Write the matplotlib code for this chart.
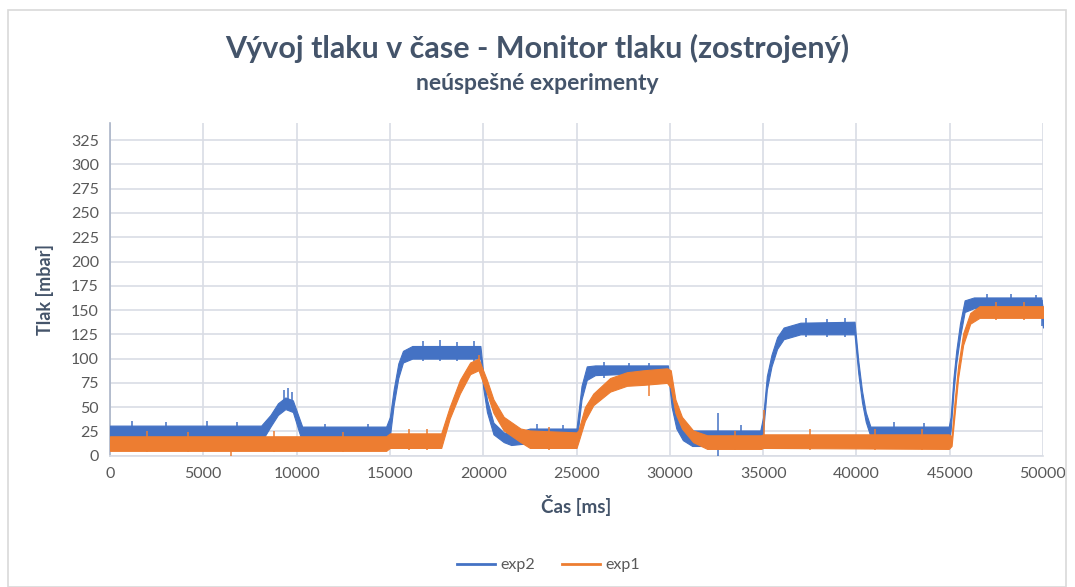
import numpy as np
import matplotlib.pyplot as plt
from matplotlib.patches import Rectangle
from matplotlib.lines import Line2D

# Časy (ms) a rozsah šumu tlaku (mbar) - exp2
t_exp2 = [0, 8100, 8600, 9000, 9400, 9800, 10300, 14800, 15000, 15200, 15450, 15700,
          16200, 19850, 20000, 20200, 20550, 21100, 21500, 22500, 25000, 25270, 25550,
          26000, 29900, 30100, 30350, 30700, 31200, 34850, 35000, 35200, 35450, 35750,
          36100, 37000, 39900, 40100, 40300, 40500, 40750, 44950, 45050, 45200, 45350,
          45550, 45800, 46300, 49900, 50000]
lo_exp2 = [14, 14, 30, 42, 48, 45, 14, 14, 20, 52, 80, 96,
           100, 100, 70, 45, 22, 14, 11, 13, 13, 58, 78,
           83, 86, 50, 28, 16, 10, 10, 25, 68, 92, 110,
           120, 125, 125, 85, 55, 35, 20, 12, 26, 65, 95,
           122, 148, 152, 152, 132]
hi_exp2 = [31, 31, 42, 54, 60, 57, 30, 30, 40, 68, 95, 108,
           113, 113, 85, 58, 34, 24, 22, 28, 28, 72, 92,
           93, 93, 64, 40, 26, 26, 26, 40, 82, 104, 122,
           132, 137, 138, 98, 67, 45, 30, 30, 40, 80, 108,
           136, 160, 163, 163, 150]

# exp1
t_exp1 = [0, 14800, 15000, 17750, 18200, 18750, 19300, 19750, 20200, 20550, 21100,
          22000, 22500, 25000, 25100, 25450, 25900, 26800, 27700, 28600, 29850, 30050,
          30300, 30650, 31250, 32000, 34900, 35000, 44950, 45100, 45270, 45450, 45720,
          46100, 46600, 50000]
lo_exp1 = [5, 5, 8, 8, 38, 64, 84, 88, 64, 44, 26,
           14, 8, 8, 14, 36, 52, 66, 72, 73, 75, 70,
           44, 28, 14, 7, 7, 8, 7, 10, 44, 80, 114,
           136, 142, 142]
hi_exp1 = [20, 20, 23, 23, 50, 78, 96, 100, 78, 58, 40,
           28, 26, 24, 26, 50, 64, 80, 86, 88, 90, 88,
           58, 40, 26, 21, 21, 22, 22, 20, 58, 92, 126,
           147, 154, 154]

# Výrazné jednotlivé špičky (čas, min, max)
spk_exp2_t = [1200, 3000, 5200, 6800, 9300, 9550, 9750, 11500, 13800, 16800, 17700,
              18600, 19500, 22900, 24300, 26500, 27800, 28900, 32600, 33800, 37300,
              38400, 39400, 42000, 43600, 47000, 48300, 49600, 49950]
spk_exp2_lo = [12, 12, 13, 12, 50, 50, 48, 12, 12, 98, 98,
               98, 98, 12, 12, 80, 82, 82, 0, 9, 122,
               122, 122, 10, 10, 150, 150, 150, 134]
spk_exp2_hi = [36, 35, 36, 35, 68, 70, 66, 33, 33, 118, 119,
               117, 118, 33, 32, 96, 95, 95, 44, 32, 142,
               141, 142, 35, 34, 167, 167, 166, 160]
spk_exp1_t = [2000, 4200, 6500, 8800, 12500, 16000, 17000, 19800, 23500, 28900,
              33500, 35050, 37500, 41000, 43500, 47500, 49000]
spk_exp1_lo = [4, 4, 0, 4, 4, 6, 6, 88, 6, 62,
               6, 10, 6, 6, 6, 140, 140]
spk_exp1_hi = [25, 24, 15, 25, 24, 28, 28, 104, 30, 86,
               25, 47, 28, 28, 27, 158, 158]

y_ticks = list(range(0, 326, 25))
x_ticks = list(range(0, 50001, 5000))

blue = '#4472C4'
orange = '#ED7D31'
txt = '#44546A'
tick_c = '#595959'
grid_c = '#D9DDE5'

plt.rcParams['font.family'] = ['Lato', 'DejaVu Sans']

W, H = 1075, 587
fig = plt.figure(figsize=(W / 100, H / 100), dpi=100)
fig.patch.set_facecolor('white')

# rámček grafu
fig.patches.append(Rectangle((8 / W, 0), (1066 - 8) / W, (H - 10) / H,
                             transform=fig.transFigure, fill=False,
                             edgecolor='#D9D9D9', lw=1.2))

ax = fig.add_axes([110 / W, (H - 455.7) / H, 933 / W, (455.7 - 122.7) / H])

ax.fill_between(t_exp2, lo_exp2, hi_exp2, color=blue, lw=0.8, edgecolor=blue, zorder=3)
ax.vlines(spk_exp2_t, spk_exp2_lo, spk_exp2_hi, color=blue, lw=1.1, zorder=3)
ax.fill_between(t_exp1, lo_exp1, hi_exp1, color=orange, lw=0.8, edgecolor=orange, zorder=4)
ax.vlines(spk_exp1_t, spk_exp1_lo, spk_exp1_hi, color=orange, lw=1.1, zorder=4)

ax.set_xlim(0, 50000)
ax.set_ylim(0, 343)
ax.set_xticks(x_ticks)
ax.set_yticks(y_ticks)
ax.grid(True, color=grid_c, lw=1.2, zorder=0)
ax.set_axisbelow(True)
ax.tick_params(length=0, labelsize=11.5, labelcolor=tick_c, pad=8)
for s in ['top', 'right']:
    ax.spines[s].set_visible(False)
ax.spines['left'].set_color('#ABB5C8')
ax.spines['left'].set_linewidth(1.2)
ax.spines['bottom'].set_color(grid_c)
ax.spines['bottom'].set_linewidth(1.2)

ax.set_xlabel('Čas [ms]', fontsize=13.5, fontweight='bold', color=txt, labelpad=10)
ax.set_ylabel('Tlak [mbar]', fontsize=13, fontweight='bold', color=txt, labelpad=12)

fig.text(0.5, (H - 48) / H, 'Vývoj tlaku v čase - Monitor tlaku (zostrojený)',
         ha='center', va='center', fontsize=22, fontweight='bold', color=txt)
fig.text(0.5, (H - 83) / H, 'neúspešné experimenty',
         ha='center', va='center', fontsize=16.5, fontweight='bold', color=txt)

handles = [Line2D([], [], color=blue, lw=2), Line2D([], [], color=orange, lw=2)]
fig.legend(handles, ['exp2', 'exp1'], loc='center', bbox_to_anchor=(0.51, (H - 565) / H),
           ncol=2, frameon=False, fontsize=11.5, labelcolor=tick_c,
           handlelength=2.4, columnspacing=1.7, handletextpad=0.3)

fig.savefig('out.png', dpi=100)
